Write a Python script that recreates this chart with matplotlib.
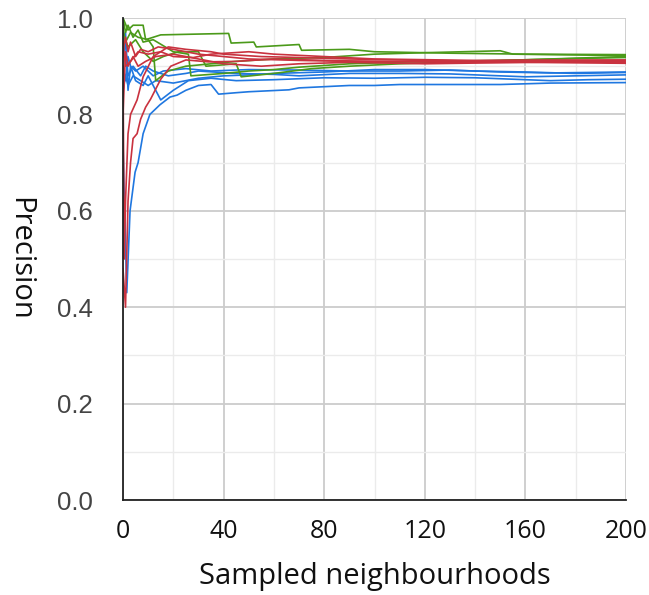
import matplotlib
matplotlib.use("Agg")
import matplotlib.pyplot as plt
from matplotlib.ticker import MultipleLocator

# ---- data (sample index, precision) ----
green_1_x = [0, 2, 4, 8, 9, 15, 42, 43, 52, 53, 70, 71, 90, 100, 130, 160, 200]
green_1_y = [1.0, 0.975, 0.985, 0.985, 0.955, 0.965, 0.968, 0.948, 0.95, 0.94, 0.945, 0.933, 0.935, 0.93, 0.927, 0.925, 0.924]
green_2_x = [0, 1, 3, 6, 10, 12, 13, 18, 25, 35, 45, 60, 80, 100, 120, 150, 155, 200]
green_2_y = [0.98, 0.95, 0.97, 0.96, 0.955, 0.94, 0.87, 0.89, 0.9, 0.905, 0.91, 0.915, 0.918, 0.925, 0.928, 0.932, 0.925, 0.922]
green_3_x = [0, 1, 2, 4, 6, 8, 12, 20, 26, 27, 40, 50, 60, 70, 90, 120, 150, 180, 200]
green_3_y = [1.0, 0.97, 0.985, 0.96, 0.975, 0.95, 0.955, 0.93, 0.925, 0.88, 0.885, 0.89, 0.893, 0.898, 0.905, 0.91, 0.912, 0.916, 0.918]
green_4_x = [0, 2, 5, 8, 12, 16, 22, 30, 33, 45, 47, 60, 75, 90, 110, 140, 170, 200]
green_4_y = [0.97, 0.94, 0.955, 0.93, 0.91, 0.92, 0.93, 0.93, 0.9, 0.905, 0.878, 0.885, 0.895, 0.9, 0.905, 0.91, 0.915, 0.92]

red_1_x = [0, 1, 2, 3, 4, 5.6, 7, 9, 11, 15, 19, 25, 34, 45, 60, 80, 100, 130, 160, 200]
red_1_y = [0.48, 0.4, 0.62, 0.7, 0.75, 0.76, 0.79, 0.815, 0.832, 0.873, 0.9, 0.913, 0.909, 0.91, 0.915, 0.912, 0.91, 0.908, 0.908, 0.906]
red_2_x = [0, 0.5, 1, 2, 3, 5.6, 8, 12, 18, 25, 35, 40, 55, 70, 90, 120, 150, 200]
red_2_y = [0.9, 0.5, 0.62, 0.76, 0.8, 0.83, 0.878, 0.92, 0.94, 0.935, 0.93, 0.925, 0.92, 0.918, 0.915, 0.912, 0.91, 0.908]
red_3_x = [0, 1, 2, 3, 5, 7, 10, 14, 20, 30, 40, 50, 70, 90, 120, 160, 200]
red_3_y = [0.93, 0.96, 0.93, 0.95, 0.92, 0.935, 0.93, 0.94, 0.935, 0.925, 0.92, 0.915, 0.912, 0.91, 0.91, 0.912, 0.912]
red_4_x = [0, 1, 2, 4, 6, 9, 13, 20, 30, 40, 55, 70, 90, 120, 160, 200]
red_4_y = [0.8, 0.93, 0.9, 0.92, 0.9, 0.91, 0.92, 0.925, 0.915, 0.905, 0.9, 0.905, 0.908, 0.905, 0.908, 0.91]
red_5_x = [0, 1, 3, 6, 10, 15, 20, 28, 35, 50, 60, 80, 100, 140, 200]
red_5_y = [0.95, 0.9, 0.91, 0.93, 0.925, 0.93, 0.92, 0.918, 0.925, 0.93, 0.925, 0.92, 0.915, 0.912, 0.913]

blue_1_x = [0, 1.5, 2.8, 4.8, 6, 8, 10.7, 14.7, 18.7, 21.5, 25, 30, 35, 38, 45, 50, 66, 70, 90, 100, 110, 130, 150, 170, 200]
blue_1_y = [0.74, 0.43, 0.6, 0.68, 0.7, 0.76, 0.8, 0.82, 0.836, 0.84, 0.85, 0.86, 0.862, 0.842, 0.845, 0.847, 0.851, 0.855, 0.86, 0.86, 0.862, 0.862, 0.862, 0.865, 0.866]
blue_2_x = [0, 1, 2, 3, 5, 8, 10, 14, 15, 20, 26, 35, 45, 60, 80, 100, 120, 140, 160, 170, 185, 200]
blue_2_y = [0.95, 0.97, 0.85, 0.9, 0.87, 0.86, 0.88, 0.84, 0.83, 0.85, 0.87, 0.875, 0.87, 0.872, 0.876, 0.875, 0.877, 0.876, 0.872, 0.87, 0.872, 0.873]
blue_3_x = [0, 1, 2, 4, 7, 9, 12, 18, 25, 30, 45, 60, 70, 90, 110, 130, 160, 180, 200]
blue_3_y = [0.92, 0.95, 0.88, 0.9, 0.88, 0.9, 0.89, 0.88, 0.885, 0.89, 0.885, 0.883, 0.88, 0.885, 0.885, 0.884, 0.878, 0.88, 0.882]
blue_4_x = [0, 1, 2, 3, 5, 8, 12, 16, 25, 35, 50, 70, 90, 110, 130, 150, 170, 200]
blue_4_y = [0.9, 0.87, 0.92, 0.9, 0.89, 0.9, 0.88, 0.89, 0.895, 0.89, 0.893, 0.892, 0.89, 0.89, 0.892, 0.888, 0.886, 0.888]
blue_5_x = [0, 1, 2, 4, 7, 10, 13, 20, 30, 40, 50, 60, 80, 100, 120, 140, 160, 180, 200]
blue_5_y = [0.85, 0.88, 0.86, 0.88, 0.87, 0.86, 0.87, 0.865, 0.875, 0.88, 0.882, 0.885, 0.888, 0.893, 0.893, 0.89, 0.888, 0.885, 0.887]

x_ticks = [0, 40, 80, 120, 160, 200]
y_ticks = [0.0, 0.2, 0.4, 0.6, 0.8, 1.0]

BLUE = "#1f77e0"
RED = "#c9323f"
GREEN = "#4b9a1a"

fig = plt.figure(figsize=(6.49, 5.95), dpi=100)
ax = fig.add_axes([123 / 649, 95 / 595, 503 / 649, 482 / 595])

blues = [(blue_1_x, blue_1_y), (blue_2_x, blue_2_y), (blue_3_x, blue_3_y),
         (blue_4_x, blue_4_y), (blue_5_x, blue_5_y)]
greens = [(green_1_x, green_1_y), (green_2_x, green_2_y), (green_3_x, green_3_y),
          (green_4_x, green_4_y)]
reds = [(red_1_x, red_1_y), (red_2_x, red_2_y), (red_3_x, red_3_y),
        (red_4_x, red_4_y), (red_5_x, red_5_y)]

for xs, ys in blues:
    ax.plot(xs, ys, color=BLUE, lw=1.2, zorder=3)
for xs, ys in greens:
    ax.plot(xs, ys, color=GREEN, lw=1.2, zorder=4)
for xs, ys in reds:
    ax.plot(xs, ys, color=RED, lw=1.2, zorder=5)

ax.set_xlim(0, 200)
ax.set_ylim(0, 1.0)
ax.set_xticks(x_ticks)
ax.set_yticks(y_ticks)
ax.xaxis.set_minor_locator(MultipleLocator(20))
ax.yaxis.set_minor_locator(MultipleLocator(0.1))
ax.grid(which="major", color="#cccccc", lw=1.3, zorder=0)
ax.grid(which="minor", color="#ebebeb", lw=1.0, zorder=0)
ax.set_axisbelow(True)

for s in ["top", "right"]:
    ax.spines[s].set_visible(False)
for s in ["left", "bottom"]:
    ax.spines[s].set_color("#222222")
    ax.spines[s].set_linewidth(1.3)
    ax.spines[s].set_zorder(6)

ax.tick_params(which="both", length=0)
ax.tick_params(axis="x", pad=14)
ax.tick_params(axis="y", pad=22)
ax.set_xticklabels([str(v) for v in x_ticks], fontfamily="Open Sans", fontsize=18, color="#111111")
ax.set_yticklabels([f"{v:.1f}" for v in y_ticks], fontfamily="Liberation Sans", fontsize=18.5, color="#444444")

ax.set_xlabel("Sampled neighbourhoods", fontfamily="Open Sans", fontsize=21, color="#111111", va="center")
ax.xaxis.set_label_coords(0.5, -0.158)
ax.set_ylabel("Precision", fontfamily="Open Sans", fontsize=21, color="#111111", rotation=-90, va="center")
ax.yaxis.set_label_coords(-0.205, 0.5)

fig.savefig("out.png", dpi=100)
